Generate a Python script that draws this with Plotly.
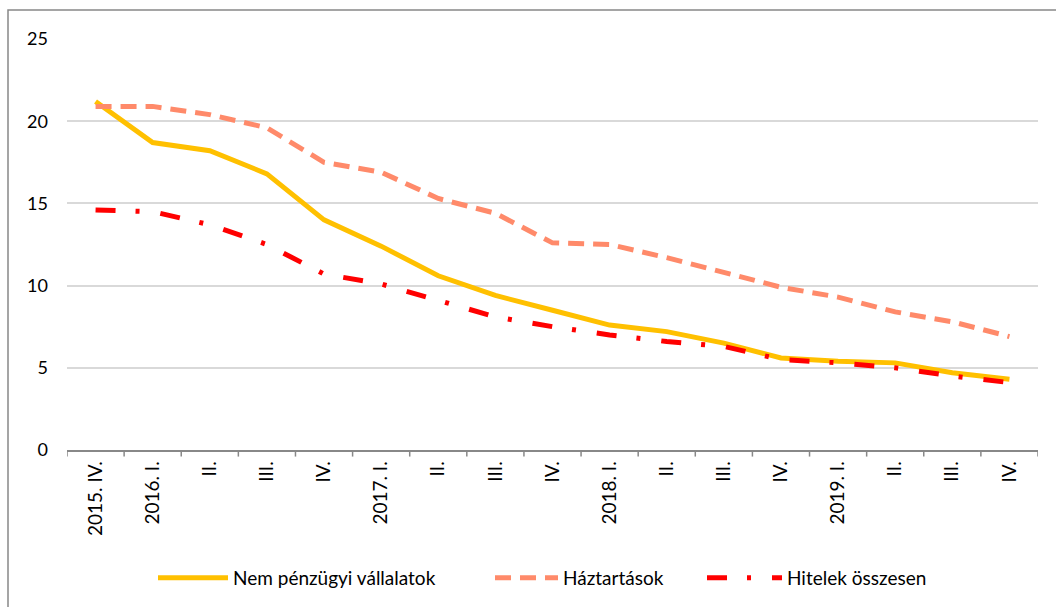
import plotly.graph_objects as go

categories = ["2015. IV.", "2016. I.", "II.", "III.", "IV.", "2017. I.", "II.", "III.", "IV.",
              "2018. I.", "II.", "III.", "IV.", "2019. I.", "II.", "III.", "IV."]

nem_penzugyi = [21.2, 18.7, 18.2, 16.8, 14.0, 12.4, 10.6, 9.4, 8.5, 7.6, 7.2, 6.5, 5.6, 5.4, 5.3, 4.7, 4.3]
haztartasok = [20.9, 20.9, 20.4, 19.6, 17.5, 16.9, 15.3, 14.4, 12.6, 12.5, 11.7, 10.8, 9.9, 9.3, 8.4, 7.8, 6.9]
hitelek_osszesen = [14.6, 14.5, 13.7, 12.5, 10.7, 10.1, 9.1, 8.1, 7.5, 7.0, 6.6, 6.3, 5.5, 5.3, 5.0, 4.5, 4.1]

series_names = ["Nem pénzügyi vállalatok", "Háztartások", "Hitelek összesen"]

x_idx = list(range(len(categories)))

fig = go.Figure()
fig.add_trace(go.Scatter(x=x_idx, y=nem_penzugyi, name=series_names[0], mode="lines",
                         line=dict(color="#FFC000", width=5), legend="legend"))
fig.add_trace(go.Scatter(x=x_idx, y=haztartasok, name=series_names[1], mode="lines",
                         line=dict(color="#FF8A6A", width=5, dash="16px,9px"), legend="legend2"))
fig.add_trace(go.Scatter(x=x_idx, y=hitelek_osszesen, name=series_names[2], mode="lines",
                         line=dict(color="#FF0000", width=5, dash="20px,20px,4px,21px"), legend="legend3"))

font_family = "Lato, 'Open Sans', sans-serif"

# one legend box per series so each entry sits at its own spot along the bottom row
def legend_box(x_px, item_w):
    return dict(orientation="h", x=(x_px - 67) / 971, xanchor="left", y=-0.308, yanchor="middle",
                font=dict(size=19), itemwidth=item_w, bgcolor="rgba(0,0,0,0)")

fig.update_layout(
    width=1056, height=607,
    margin=dict(l=67, r=18, t=39, b=156),
    paper_bgcolor="white", plot_bgcolor="white",
    font=dict(family=font_family, size=19, color="black"),
    showlegend=True,
    legend=legend_box(153, 70),
    legend2=legend_box(490, 63),
    legend3=legend_box(702, 75),
    xaxis=dict(
        range=[-0.5, len(categories) - 0.5],
        tickmode="array", tickvals=x_idx, ticktext=categories,
        tickangle=-90, tickfont=dict(size=19),
        showgrid=False, zeroline=False,
        showline=True, linecolor="#888888", linewidth=1.5,
        ticks="", ticklabelstandoff=2,
    ),
    yaxis=dict(
        range=[0, 25], tickvals=[0, 5, 10, 15, 20, 25],
        showgrid=True, gridcolor="#d9d9d9", gridwidth=1.5,
        zeroline=False, showline=False, ticks="", ticklabelstandoff=18,
        tickfont=dict(size=18),
    ),
)

# category boundary tick marks on the x axis
for i in range(len(categories) + 1):
    fig.add_shape(type="line", xref="x", yref="paper", x0=i - 0.5, x1=i - 0.5, y0=0, y1=-0.016,
                  line=dict(color="#888888", width=1.5))

# outer chart frame
fig.add_shape(type="rect", xref="paper", yref="paper",
              x0=(8 - 67) / 971, x1=(1070 - 67) / 971, y0=(451 - 620) / 412, y1=(451 - 10) / 412,
              line=dict(color="#888888", width=1.5), fillcolor="rgba(0,0,0,0)", layer="below")

fig.write_html("out.html")
